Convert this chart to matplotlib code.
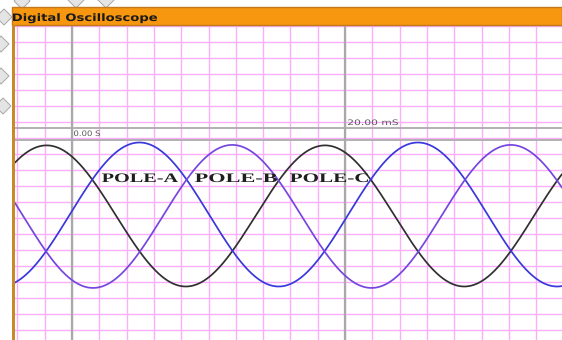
import numpy as np
import matplotlib
matplotlib.use("Agg")
import matplotlib.pyplot as plt
from matplotlib.patches import Rectangle, PathPatch, Polygon
from matplotlib.textpath import TextPath
from matplotlib.font_manager import FontProperties
from matplotlib.transforms import Affine2D

# ---- signal data (three-phase supply seen on the scope) ----
poles = ["POLE-A", "POLE-B", "POLE-C"]
pole_colors = ["#303030", "#3838dc", "#7646de"]
peak_times_ms = [-1.86, 4.94, 11.74]     # time of first crest of each pole
period_ms = 20.4                          # ~49 Hz mains
amplitude_div = [4.41, 4.50, 4.47]        # crest height in vertical divisions
offset_div = [0.11, 0.20, 0.08]           # trace baseline relative to graticule

# ---- screen graticule ----
time_ticks_ms = np.arange(-4, 38, 2)      # pink vertical lines, 2 ms/div
level_ticks_div = np.arange(-8, 13, 1)    # pink horizontal lines
cursor_times_ms = [0.0, 20.0]
cursor_labels = ["0.00 S", "20.00 mS"]
cursor_levels_div = [5.61, 4.86]

W, H = 562, 340
fig = plt.figure(figsize=(W / 100, H / 100), dpi=100)
fig.patch.set_facecolor("white")

# screen area in window pixels
x0, y_top = 15, 25
ax = fig.add_axes([x0 / W, 0, (W - x0) / W, (H - y_top) / H])
px_per_ms = 13.65
t_zero_px = 72
level_zero_px = 217.7
px_per_div = 16.0


def t_of_px(px):
    return (px - t_zero_px) / px_per_ms


def v_of_py(py):
    return (level_zero_px - py) / px_per_div


ax.set_xlim(t_of_px(x0), t_of_px(W))
ax.set_ylim(v_of_py(H), v_of_py(y_top))
ax.set_axis_off()
ax.add_patch(Rectangle((0, 0), 1, 1, transform=ax.transAxes,
                       facecolor="white", edgecolor="none", zorder=0))

grid_pink = "#fbaefb"
for t in time_ticks_ms:
    ax.axvline(t, color=grid_pink, lw=1.0, zorder=1)
for v in level_ticks_div:
    ax.axhline(v, color=grid_pink, lw=1.0, zorder=1)
for t in cursor_times_ms:
    ax.axvline(t, color="#a9a9a9", lw=1.6, zorder=2)
for v in cursor_levels_div:
    ax.axhline(v, color="#ababab", lw=1.3, zorder=2)

t = np.linspace(t_of_px(x0), t_of_px(W), 1400)
for col, tp, amp, off in zip(pole_colors, peak_times_ms, amplitude_div, offset_div):
    ax.plot(t, off + amp * np.cos(2 * np.pi * (t - tp) / period_ms),
            color=col, lw=1.25, zorder=3, solid_capstyle="round")


def boxed_text(s, left, right, base, cap, family, weight, color, z=5):
    """Draw text fitted into a pixel box (left/right edges, baseline, cap height)."""
    fp = FontProperties(family=family, weight=weight)
    path = TextPath((0, 0), s, size=100, prop=fp)
    capref = TextPath((0, 0), "H", size=100, prop=fp).get_extents()
    ext = path.get_extents()
    sy = cap / capref.y1
    sx = (right - left) / ext.width
    tr = Affine2D().translate(-ext.x0, 0).scale(sx, sy).translate(left, H - base)
    patch = PathPatch(path, transform=tr, facecolor=color, edgecolor="none",
                      zorder=z)
    fig.add_artist(patch)


# pole labels
label_boxes = [(102, 178), (195, 277), (290, 368)]
for name, (l, r) in zip(poles, label_boxes):
    boxed_text(name, l, r, 182, 8.5, "Liberation Serif", "bold", "#1f1f1f")

# cursor read-outs
boxed_text(cursor_labels[0], 74, 100, 136, 5.5, "DejaVu Sans", "normal", "#5a5a5a")
boxed_text(cursor_labels[1], 348, 398, 125, 5.5, "DejaVu Sans", "normal", "#5a5a5a")

# desktop ornaments peeking out behind the window
for cx, cy in [(4, 17), (22, 1), (76, 0), (106, 0), (1, 44), (1, 76), (3, 106)]:
    r = 8
    pts = [(cx - r, H - cy), (cx, H - cy + r), (cx + r, H - cy), (cx, H - cy - r)]
    fig.add_artist(Polygon(pts, closed=True, transform=None, facecolor="#e4e4e4",
                           edgecolor="#a6a6a6", lw=0.7, zorder=0.5))

# window frame: title bar and left border
fig.add_artist(Rectangle((12, H - 25), W - 12, 18, transform=None,
                         facecolor="#f7960f", edgecolor="#c27a1a", lw=1.0, zorder=4))
fig.add_artist(Rectangle((12, 0), 3, H - 25, transform=None,
                         facecolor="#c98a2c", edgecolor="none", zorder=4))
boxed_text("Digital Oscilloscope", 13, 157, 21, 7.5, "DejaVu Sans", "bold", "#1a1a1a")

fig.savefig("out.png", dpi=100, facecolor="white")
